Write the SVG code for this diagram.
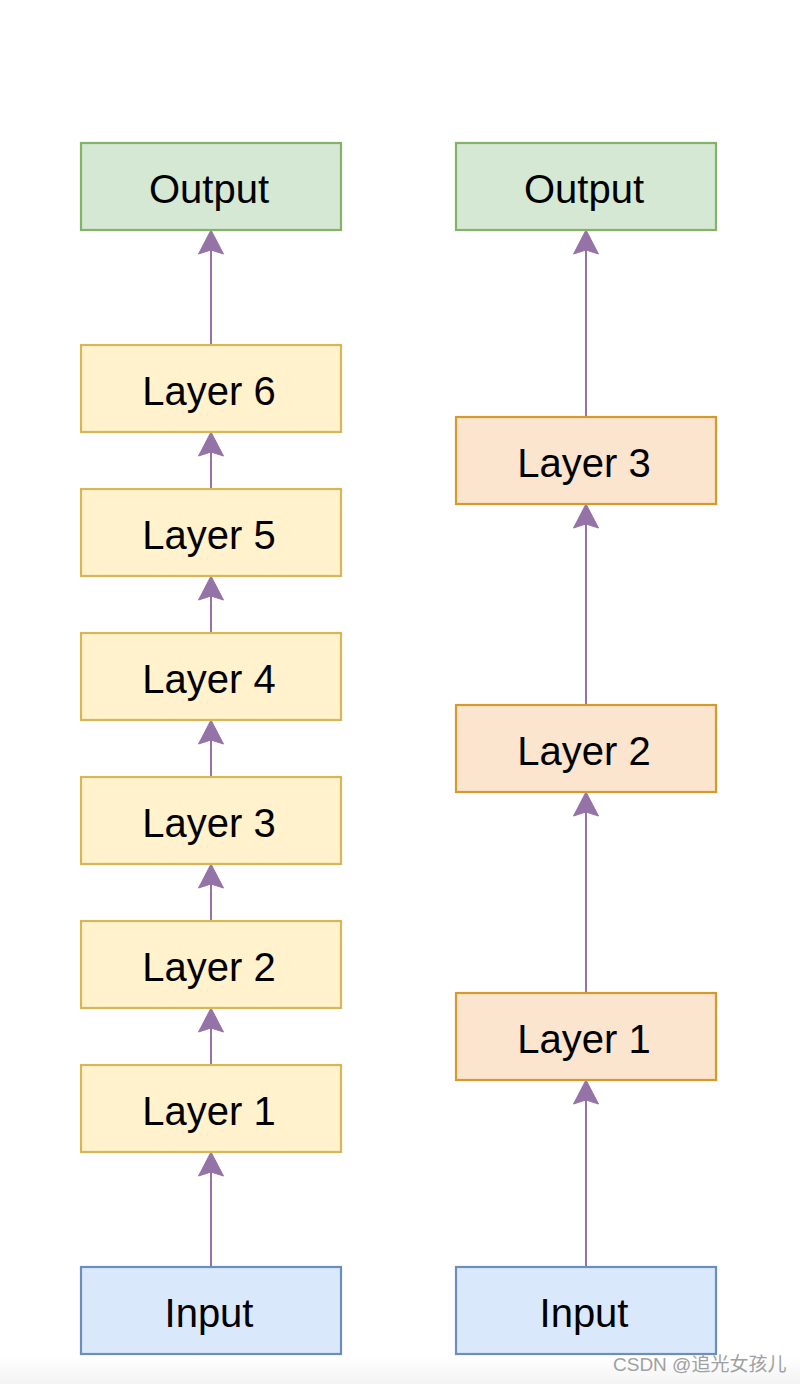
<svg xmlns="http://www.w3.org/2000/svg" width="800" height="1384" viewBox="0 0 800 1384">
<style>
.box{stroke-width:2.2}
.g{fill:#d5e8d4;stroke:#82b366}
.y{fill:#fff2cc;stroke:#d6b656}
.o{fill:#fbe5cf;stroke:#d59b2a}
.b{fill:#dae8fc;stroke:#6c8ebf}
.t{font-family:"Liberation Sans",Arial,sans-serif;font-size:40px;fill:#000;text-anchor:middle}
.c{stroke:#9673a6;stroke-width:2;fill:none;marker-end:url(#ah)}
.wm{font-family:"Liberation Sans","Noto Sans CJK SC",sans-serif;font-size:19px;fill:#a0a0a0}
</style>
<defs>
<marker id="ah" markerUnits="userSpaceOnUse" markerWidth="30" markerHeight="30" viewBox="-2 -15 30 30" refX="4" refY="0" orient="auto">
<path d="M24,0 L0,-12.5 L4,0 L0,12.5 Z" fill="#9673a6" stroke="#9673a6" stroke-width="1"/>
</marker>
<linearGradient id="bot" x1="0" y1="0" x2="0" y2="1">
<stop offset="0" stop-color="#ffffff"/>
<stop offset="1" stop-color="#f3f3f3"/>
</linearGradient>
</defs>
<rect x="0" y="0" width="800" height="1384" fill="#ffffff"/>
<rect x="0" y="1356" width="800" height="28" fill="url(#bot)"/>
<g id="connectors">
<line class="c" x1="211" y1="345" x2="211" y2="250"/>
<line class="c" x1="211" y1="489" x2="211" y2="452"/>
<line class="c" x1="211" y1="633" x2="211" y2="596"/>
<line class="c" x1="211" y1="777" x2="211" y2="740"/>
<line class="c" x1="211" y1="921" x2="211" y2="884"/>
<line class="c" x1="211" y1="1065" x2="211" y2="1028"/>
<line class="c" x1="211" y1="1267" x2="211" y2="1172"/>
<line class="c" x1="586" y1="417" x2="586" y2="250"/>
<line class="c" x1="586" y1="705" x2="586" y2="524"/>
<line class="c" x1="586" y1="993" x2="586" y2="812"/>
<line class="c" x1="586" y1="1267" x2="586" y2="1100"/>
</g>
<g id="L-output"><rect class="box g" x="81" y="143" width="260" height="87"/><text class="t" x="209" y="203">Output</text></g>
<g id="L-layer6"><rect class="box y" x="81" y="345" width="260" height="87"/><text class="t" x="209" y="405">Layer 6</text></g>
<g id="L-layer5"><rect class="box y" x="81" y="489" width="260" height="87"/><text class="t" x="209" y="549">Layer 5</text></g>
<g id="L-layer4"><rect class="box y" x="81" y="633" width="260" height="87"/><text class="t" x="209" y="693">Layer 4</text></g>
<g id="L-layer3"><rect class="box y" x="81" y="777" width="260" height="87"/><text class="t" x="209" y="837">Layer 3</text></g>
<g id="L-layer2"><rect class="box y" x="81" y="921" width="260" height="87"/><text class="t" x="209" y="981">Layer 2</text></g>
<g id="L-layer1"><rect class="box y" x="81" y="1065" width="260" height="87"/><text class="t" x="209" y="1125">Layer 1</text></g>
<g id="L-input"><rect class="box b" x="81" y="1267" width="260" height="87"/><text class="t" x="209" y="1327">Input</text></g>
<g id="R-output"><rect class="box g" x="456" y="143" width="260" height="87"/><text class="t" x="584" y="203">Output</text></g>
<g id="R-layer3"><rect class="box o" x="456" y="417" width="260" height="87"/><text class="t" x="584" y="477">Layer 3</text></g>
<g id="R-layer2"><rect class="box o" x="456" y="705" width="260" height="87"/><text class="t" x="584" y="765">Layer 2</text></g>
<g id="R-layer1"><rect class="box o" x="456" y="993" width="260" height="87"/><text class="t" x="584" y="1053">Layer 1</text></g>
<g id="R-input"><rect class="box b" x="456" y="1267" width="260" height="87"/><text class="t" x="584" y="1327">Input</text></g>
<text class="wm" x="613" y="1371">CSDN @追光女孩儿</text>
</svg>
